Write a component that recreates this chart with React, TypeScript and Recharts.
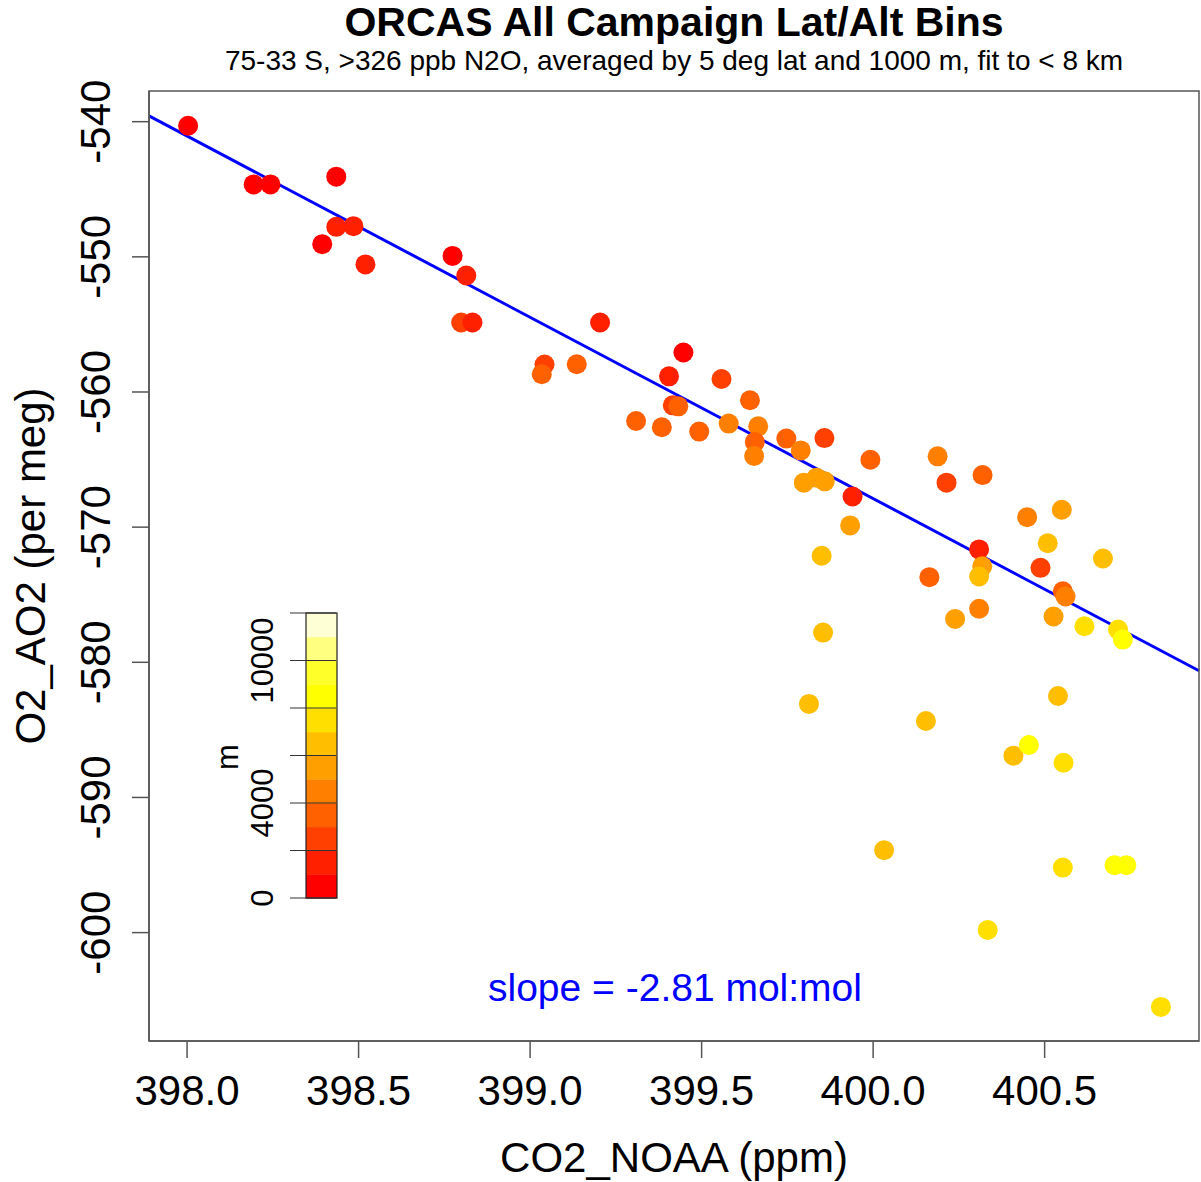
import { ScatterChart, Scatter, XAxis, YAxis, ReferenceLine } from 'recharts'

// bin-averaged CO2 (ppm), O2 (per meg) and mean altitude (m) for each lat/alt bin
const CO2 = [
  398.003, 398.194, 398.243, 398.435, 398.435, 398.485, 398.394, 398.52, 398.774, 398.814,
  398.799, 398.832, 399.204, 399.042, 399.034, 399.136, 399.447, 399.405, 399.558, 399.641,
  399.416, 399.432, 399.309, 399.384, 399.493, 399.579, 399.665, 399.655, 399.653, 399.747,
  399.789, 399.858, 399.798, 399.835, 399.859, 399.94, 399.933, 399.85, 399.854, 399.813,
  399.992, 400.032, 400.188, 400.214, 400.319, 400.164, 400.239, 400.309, 400.318, 400.309,
  400.309, 400.154, 400.449, 400.488, 400.509, 400.55, 400.553, 400.561, 400.526, 400.616,
  400.67, 400.714, 400.728, 400.539, 400.409, 400.454, 400.555, 400.553, 400.704, 400.738,
  400.334, 400.839,
]
const O2 = [
  -540.3, -544.64, -544.64, -544.07, -547.78, -547.73, -549.06, -550.56, -549.93, -551.38,
  -554.86, -554.86, -554.86, -557.97, -558.69, -557.95, -557.08, -558.84, -559.04, -560.61,
  -560.99, -561.06, -562.15, -562.61, -562.93, -562.34, -562.54, -563.7, -564.74, -563.45,
  -564.32, -563.41, -566.71, -566.34, -566.61, -567.73, -569.87, -572.12, -577.8, -583.08,
  -565.01, -593.9, -564.76, -566.71, -566.15, -573.7, -576.79, -571.65, -572.89, -573.65,
  -576.04, -584.34, -569.26, -573.01, -571.19, -568.71, -574.74, -575.13, -576.61, -577.33,
  -572.32, -577.58, -578.32, -582.49, -586.91, -586.12, -587.43, -595.19, -595.01, -595.01,
  -599.8, -605.5,
]
const ALT = [
  500, 500, 500, 500, 1500, 1500, 500, 1500, 500, 1500,
  2500, 1500, 1500, 2500, 3500, 3500, 500, 1500, 2500, 3500,
  2500, 3500, 3500, 3500, 3500, 4500, 4500, 3500, 4500, 3500,
  4500, 2500, 5500, 5500, 5500, 1500, 5500, 6500, 6500, 6500,
  3500, 6500, 4500, 2500, 3500, 3500, 5500, 1500, 5500, 6500,
  4500, 6500, 4500, 2500, 6500, 5500, 3500, 4500, 5500, 7500,
  6500, 7500, 8500, 6500, 6500, 8500, 7500, 7500, 8500, 8500,
  7500, 7500,
]

const X_TICKS = [398.0, 398.5, 399.0, 399.5, 400.0, 400.5]
const Y_TICKS = [-600, -590, -580, -570, -560, -550, -540]
const X_DOMAIN: [number, number] = [397.889, 400.95]
const Y_DOMAIN: [number, number] = [-608.02, -537.73]

// fit below 8 km: O2 per meg vs CO2 ppm, slope converted to mol:mol with the O2 fraction
const SLOPE = -2.81
const O2_FRAC = 0.2095
const FIT_AT_398 = -541.06
const fit = (x: number) => FIT_AT_398 + (SLOPE / O2_FRAC) * (x - 398)

// altitude colour scale (heat colours, 1000 m steps)
const HEAT = [
  '#FF0000', '#FF2000', '#FF4000', '#FF6000', '#FF8000', '#FF9F00',
  '#FFBF00', '#FFDF00', '#FFFF00', '#FFFF2A', '#FFFF80', '#FFFFD5',
]
const ALT_STEP = 1000
const BAR_TICKS = [0, 2000, 4000, 6000, 8000, 10000, 12000]
const BAR_LABELS = [0, 4000, 10000]

const heatColor = (alt: number) => HEAT[Math.min(HEAT.length - 1, Math.floor(alt / ALT_STEP))]

const points = CO2.map((co2, i) => ({ co2, o2: O2[i], alt: ALT[i] }))

const FONT = '"Liberation Sans", Arial, Helvetica, sans-serif'
const AXIS = '#555'
const W = 1201
const H = 1182
const M = { top: 91, right: 2, bottom: 141, left: 149 }

const XTick = ({ x, y, payload }: any) => (
  <text x={x} y={y + 45} textAnchor="middle" fontSize={42} fontFamily={FONT} fill="#000">
    {payload.value.toFixed(1)}
  </text>
)

const YTick = ({ x, y, payload }: any) => (
  <text
    transform={`translate(${x - 20},${y}) rotate(-90)`}
    textAnchor="middle"
    fontSize={42}
    fontFamily={FONT}
    fill="#000"
  >
    {payload.value}
  </text>
)

const Dot = (props: any) => (
  <circle cx={props.cx} cy={props.cy} r={10} fill={heatColor(props.payload.alt)} />
)

// altitude legend drawn as a vertical colour bar
const ColorBar = () => {
  const top = 613
  const bottom = 898
  const left = 306
  const right = 337
  const maxAlt = HEAT.length * ALT_STEP
  const yOf = (v: number) => bottom - ((bottom - top) * v) / maxAlt
  return (
    <g>
      {HEAT.map((c, i) => (
        <rect
          key={c}
          x={left}
          y={yOf((i + 1) * ALT_STEP)}
          width={right - left}
          height={yOf(i * ALT_STEP) - yOf((i + 1) * ALT_STEP) + 0.5}
          fill={c}
        />
      ))}
      <rect x={left} y={top} width={right - left} height={bottom - top} fill="none" stroke="#222" strokeWidth={1.2} />
      {BAR_TICKS.map((t) => (
        <line key={t} x1={290} x2={right - 1} y1={yOf(t)} y2={yOf(t)} stroke="#333" strokeWidth={1.2} />
      ))}
      {BAR_LABELS.map((t) => (
        <text
          key={t}
          transform={`translate(273,${yOf(t)}) rotate(-90)`}
          textAnchor="middle"
          fontSize={31}
          fontFamily={FONT}
        >
          {t}
        </text>
      ))}
      <text transform="translate(238,757) rotate(-90)" textAnchor="middle" fontSize={31} fontFamily={FONT}>
        m
      </text>
    </g>
  )
}

export default function App() {
  return (
    <div style={{ position: 'absolute', left: 0, top: 0, width: W, height: H, background: '#fff' }}>
      <ScatterChart width={W} height={H} margin={{ top: M.top, right: M.right, bottom: 0, left: 0 }}>
        <XAxis
          dataKey="co2"
          type="number"
          domain={X_DOMAIN}
          ticks={X_TICKS}
          allowDataOverflow
          height={M.bottom}
          tickSize={17}
          tick={<XTick />}
          axisLine={{ stroke: AXIS, strokeWidth: 1.5 }}
          tickLine={{ stroke: AXIS, strokeWidth: 1.5 }}
        />
        <YAxis
          dataKey="o2"
          type="number"
          domain={Y_DOMAIN}
          ticks={Y_TICKS}
          allowDataOverflow
          width={M.left}
          tickSize={17}
          tick={<YTick />}
          axisLine={{ stroke: AXIS, strokeWidth: 1.5 }}
          tickLine={{ stroke: AXIS, strokeWidth: 1.5 }}
        />
        <Scatter data={points} shape={<Dot />} isAnimationActive={false} />
        <ReferenceLine
          segment={[
            { x: X_DOMAIN[0], y: fit(X_DOMAIN[0]) },
            { x: X_DOMAIN[1], y: fit(X_DOMAIN[1]) },
          ]}
          stroke="#0000FF"
          strokeWidth={3}
          ifOverflow="visible"
        />
      </ScatterChart>
      <svg
        width={W}
        height={H}
        style={{ position: 'absolute', left: 0, top: 0, pointerEvents: 'none' }}
        fontFamily={FONT}
      >
        {/* plot frame */}
        <rect
          x={M.left}
          y={M.top}
          width={W - M.left - M.right}
          height={H - M.top - M.bottom}
          fill="none"
          stroke={AXIS}
          strokeWidth={1.5}
        />
        <text x={674} y={36} textAnchor="middle" fontSize={41} fontWeight="bold">
          ORCAS All Campaign Lat/Alt Bins
        </text>
        <text x={674} y={70} textAnchor="middle" fontSize={28}>
          75-33 S, {'>'}326 ppb N2O, averaged by 5 deg lat and 1000 m, fit to {'<'} 8 km
        </text>
        <text x={674} y={1172} textAnchor="middle" fontSize={42}>
          CO2_NOAA (ppm)
        </text>
        <text transform="translate(45,566) rotate(-90)" textAnchor="middle" fontSize={42}>
          O2_AO2 (per meg)
        </text>
        <text x={675} y={1001} textAnchor="middle" fontSize={39} fill="#0000FF">
          slope = {SLOPE.toFixed(2)} mol:mol
        </text>
        <ColorBar />
      </svg>
    </div>
  )
}
